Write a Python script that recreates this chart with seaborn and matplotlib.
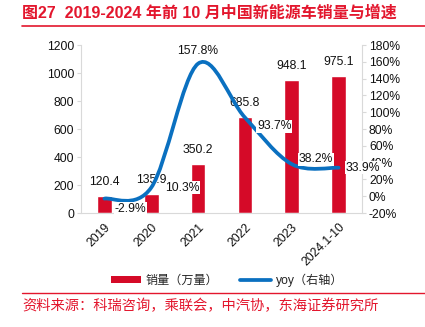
import numpy as np
import pandas as pd
import matplotlib
matplotlib.use("Agg")
import matplotlib.pyplot as plt
import seaborn as sns
from matplotlib.path import Path
from matplotlib.patches import PathPatch, Patch
from matplotlib.lines import Line2D
from matplotlib.ticker import FuncFormatter, MultipleLocator

# ---- data ----
years = ["2019", "2020", "2021", "2022", "2023", "2024.1-10"]
sales = [120.4, 135.9, 350.2, 685.8, 948.1, 975.1]      # 万量
yoy = [-2.9, 10.3, 157.8, 93.7, 38.2, 33.9]              # %
sales_labels = ["120.4", "135.9", "350.2", "685.8", "948.1", "975.1"]
yoy_labels = ["-2.9%", "10.3%", "157.8%", "93.7%", "38.2%", "33.9%"]

title = "图27  2019-2024 年前 10 月中国新能源车销量与增速"
source = "资料来源：科瑞咨询，乘联会，中汽协，东海证券研究所"
legend_bar = "销量（万量）"
legend_line = "yoy（右轴）"

BAR_RED = "#D50A28"
LINE_BLUE = "#0A70C0"
TITLE_RED = "#E3162D"
GRID_GRAY = "#D9D9D9"

sns.set_style("white")
plt.rcParams["font.family"] = ["Liberation Sans", "Noto Sans CJK SC"]
plt.rcParams["font.size"] = 8.7

fig = plt.figure(figsize=(4.25, 3.27), dpi=100)
ax = fig.add_axes([81 / 425, 114 / 327, 281 / 425, 168 / 327])

df = pd.DataFrame({"year": years, "sales": sales, "yoy": yoy})
sns.barplot(data=df, x="year", y="sales", color=BAR_RED, width=0.31,
            saturation=1, ax=ax, zorder=2)
ax.set_xlim(-0.5, len(years) - 0.5)
ax.set_ylim(0, 1200)
ax.yaxis.set_major_locator(MultipleLocator(200))
ax.set_xlabel("")
ax.set_ylabel("")

for s in ["top", "right"]:
    ax.spines[s].set_visible(False)
for s in ["left", "bottom"]:
    ax.spines[s].set_color(GRID_GRAY)
    ax.spines[s].set_linewidth(0.8)
ax.tick_params(axis="y", length=3, color=GRID_GRAY, pad=2, labelcolor="#111111")
ax.tick_params(axis="x", length=0, pad=6, labelcolor="#111111")
for lab in ax.get_xticklabels():
    lab.set_rotation(45)
    lab.set_ha("right")
    lab.set_va("top")
    lab.set_rotation_mode("anchor")

# secondary axis
ax2 = ax.twinx()
ax2.set_ylim(-20, 180)
ax2.yaxis.set_major_locator(MultipleLocator(20))
ax2.yaxis.set_major_formatter(FuncFormatter(lambda v, p: f"{v:.0f}%"))
for s in ["top", "left", "bottom"]:
    ax2.spines[s].set_visible(False)
ax2.spines["right"].set_color(GRID_GRAY)
ax2.spines["right"].set_linewidth(0.8)
ax2.tick_params(axis="y", length=3, color=GRID_GRAY, pad=2, labelcolor="#111111")

# smoothed line (Bezier through data points)
xs = np.arange(len(yoy), dtype=float)
ys = np.asarray(yoy, dtype=float)
pts = np.column_stack([xs, ys])
verts = [tuple(pts[0])]
codes = [Path.MOVETO]
n = len(pts)
for i in range(n - 1):
    p0 = pts[i - 1] if i > 0 else pts[i]
    p1 = pts[i]
    p2 = pts[i + 1]
    p3 = pts[i + 2] if i + 2 < n else pts[i + 1]
    c1 = p1 + (p2 - p0) / 6.0
    c2 = p2 - (p3 - p1) / 6.0
    verts += [tuple(c1), tuple(c2), tuple(p2)]
    codes += [Path.CURVE4] * 3
patch = PathPatch(Path(verts, codes), facecolor="none", edgecolor=LINE_BLUE,
                  lw=2.7, capstyle="round", joinstyle="round",
                  transform=ax2.transData, zorder=3)
ax2.add_patch(patch)

# bar labels
for i, (v, t) in enumerate(zip(sales, sales_labels)):
    ax.annotate(t, (i, v), xytext=(0, 14), textcoords="offset pixels",
                ha="center", va="center", color="#111111", zorder=1)

# line labels
line_offsets = [(10, -10, "left"), (14, 0, "left"), (0, 13, "center"),
                (12, -9, "left"), (7, 5, "left"), (7, 0, "left")]
for i, (v, t) in enumerate(zip(yoy, yoy_labels)):
    dx, dy, ha = line_offsets[i]
    ax2.annotate(t, (i, v), xytext=(dx, dy), textcoords="offset pixels",
                 ha=ha, va="center", color="#111111", zorder=5,
                 bbox=dict(boxstyle="square,pad=0.05", fc="white", ec="none"))

# legend
handles = [Patch(facecolor=BAR_RED, edgecolor="none"),
           Line2D([0], [0], color=LINE_BLUE, lw=2.7)]
fig.legend(handles, [legend_bar, legend_line], loc="center",
           bbox_to_anchor=(227 / 425, 1 - 280 / 327), ncol=2, frameon=False,
           handlelength=2.5, handleheight=0.45, handletextpad=0.4,
           columnspacing=1.8, fontsize=8.7)

# title and rules
fig.text(22 / 425, 1 - 13 / 327, title, color=TITLE_RED, fontsize=11.5,
         fontweight="bold", ha="left", va="center")
fig.add_artist(Line2D([22 / 425, 1.0], [1 - 26 / 327, 1 - 26 / 327],
                      color=TITLE_RED, lw=1.2, transform=fig.transFigure))
fig.add_artist(Line2D([22 / 425, 1.0], [1 - 293 / 327, 1 - 293 / 327],
                      color=TITLE_RED, lw=1.0, transform=fig.transFigure))
fig.text(22 / 425, 1 - 306 / 327, source, color=TITLE_RED, fontsize=10.3,
         ha="left", va="center")

fig.savefig("out.png", dpi=100)
